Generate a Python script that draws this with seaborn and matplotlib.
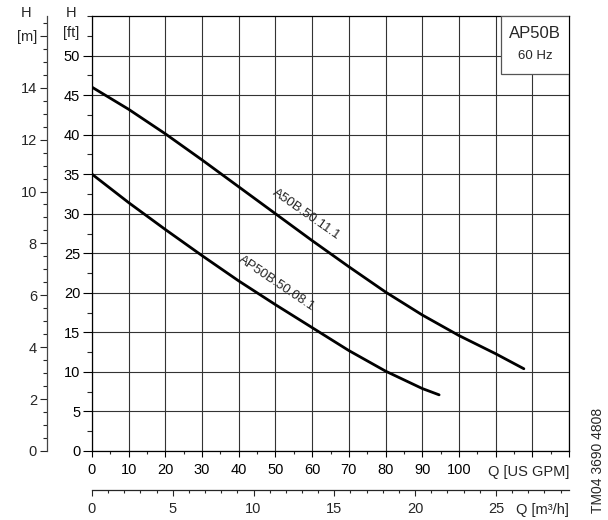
import numpy as np
import pandas as pd
import matplotlib
matplotlib.use("Agg")
import matplotlib.pyplot as plt
import matplotlib.ticker as mticker
from matplotlib.patches import Rectangle
import seaborn as sns

# pump curves, flow in US GPM, head in ft
gpm_11 = [0, 10, 20, 30, 40, 50, 60, 70, 80, 90, 100, 110, 117.7]
head_11 = [46.0, 43.2, 40.1, 36.8, 33.4, 30.0, 26.6, 23.3, 20.1, 17.2, 14.6, 12.3, 10.4]
gpm_08 = [0, 10, 20, 30, 40, 50, 60, 70, 80, 90, 94.6]
head_08 = [35.0, 31.4, 28.0, 24.7, 21.5, 18.5, 15.6, 12.7, 10.1, 7.9, 7.1]

gpm_ticks = list(range(0, 131, 10))
gpm_labels = [str(v) for v in range(0, 101, 10)] + ["", "", ""]
ft_ticks = list(range(0, 51, 5))
m_ticks = list(range(0, 17, 2))
m_labels = [str(v) for v in range(0, 15, 2)] + ["[m]"]
m3h_ticks = [0, 5, 10, 15, 20, 25]

sns.set_theme(style="ticks")
plt.rcParams["font.family"] = ["Liberation Sans", "DejaVu Sans"]

curves = pd.concat([
    pd.DataFrame({"Q": gpm_11, "H": head_11, "pump": "A50B.50.11.1"}),
    pd.DataFrame({"Q": gpm_08, "H": head_08, "pump": "AP50B.50.08.1"}),
])

fig = plt.figure(figsize=(6.08, 5.20), dpi=100)
ax = fig.add_axes([92 / 608, 1 - 451 / 520, 477 / 608, 435 / 520])

sns.lineplot(data=curves, x="Q", y="H", units="pump", estimator=None,
             color="black", lw=2.0, ax=ax, legend=False, zorder=3, sort=False)

ax.set_xlim(0, 130)
ax.set_ylim(0, 55)
ax.set_xlabel("")
ax.set_ylabel("")
ax.set_xticks(gpm_ticks)
ax.set_xticklabels(gpm_labels)
ax.xaxis.set_minor_locator(mticker.MultipleLocator(5))
ax.set_yticks(ft_ticks)
ax.yaxis.set_minor_locator(mticker.MultipleLocator(2.5))
ax.grid(True, which="major", color="#333333", lw=0.8)
for s in ax.spines.values():
    s.set_color("black")
    s.set_linewidth(0.9)
ax.tick_params(axis="x", which="major", length=4.5, width=0.8, labelsize=10.5, pad=4, colors="black")
ax.tick_params(axis="x", which="minor", length=2.5, width=0.8)
ax.tick_params(axis="y", which="major", length=6.5, width=0.8, labelsize=10.5, pad=2, colors="black")
ax.tick_params(axis="y", which="minor", length=3.5, width=0.8)

# second flow axis in m3/h
gpm_per_m3h = 4.403
sec_x = ax.secondary_xaxis(-0.0897, functions=(lambda q: q / gpm_per_m3h, lambda q: q * gpm_per_m3h))
sec_x.set_xticks(m3h_ticks)
sec_x.xaxis.set_minor_locator(mticker.MultipleLocator(1))
sec_x.tick_params(axis="x", which="major", length=4.5, width=0.8, labelsize=10.5, pad=4)
sec_x.tick_params(axis="x", which="minor", length=2.5, width=0.8)
sec_x.spines["bottom"].set_linewidth(0.9)

# second head axis in m
ft_per_m = 3.2808
sec_y = ax.secondary_yaxis(-0.095, functions=(lambda h: h / ft_per_m, lambda h: h * ft_per_m))
sec_y.set_yticks(m_ticks)
sec_y.set_yticklabels(m_labels)
sec_y.yaxis.set_minor_locator(mticker.MultipleLocator(0.5))
sec_y.tick_params(axis="y", which="major", length=5, width=0.8, labelsize=10.5, pad=2)
sec_y.tick_params(axis="y", which="minor", length=3, width=0.8)
sec_y.spines["left"].set_linewidth(0.9)
sec_y.spines["left"].set_color("#444444")

# axis titles
fig.text(26.5 / 608, 1 - 13 / 520, "H", ha="center", va="center", fontsize=10.5)
fig.text(71 / 608, 1 - 13 / 520, "H", ha="center", va="center", fontsize=10.5)
fig.text(71 / 608, 1 - 33 / 520, "[ft]", ha="center", va="center", fontsize=10.5)
fig.text(569 / 608, 1 - 472 / 520, "Q [US GPM]", ha="right", va="center", fontsize=10.5)
fig.text(569 / 608, 1 - 510 / 520, "Q [m\u00b3/h]", ha="right", va="center", fontsize=10.5)
fig.text(598 / 608, 1 - 460 / 520, "TM04 3690 4808", rotation=90, ha="center", va="center", fontsize=10)

# curve labels, sitting just above each curve
ax.text(57.5, 29.3, "A50B.50.11.1", rotation=-35, rotation_mode="anchor",
        ha="center", va="bottom", fontsize=9.5, zorder=4)
ax.text(49.5, 20.5, "AP50B.50.08.1", rotation=-34, rotation_mode="anchor",
        ha="center", va="bottom", fontsize=9.5, zorder=4)

# model box
ax.add_patch(Rectangle((0.857, 0.8667), 0.143, 0.1333, transform=ax.transAxes,
                       facecolor="white", edgecolor="#555555", lw=0.9, zorder=5))
ax.text(0.9285, 0.960, "AP50B", transform=ax.transAxes, ha="center", va="center",
        fontsize=12, zorder=6)
ax.text(0.9285, 0.907, "60 Hz", transform=ax.transAxes, ha="center", va="center",
        fontsize=9.5, zorder=6)

fig.savefig("out.png", dpi=100)
